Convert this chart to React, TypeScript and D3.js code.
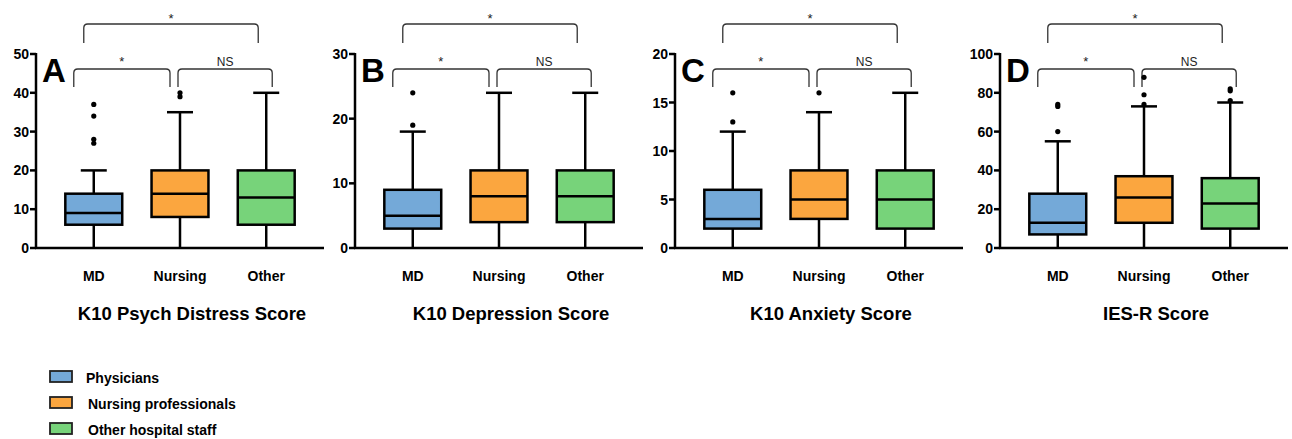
import React from 'react';
import * as d3 from 'd3';

// groups on the x axis
const categories = ['MD', 'Nursing', 'Other'];
const groupColors = ['#74a9d8', '#fba63f', '#77d37a'];
const legendLabels = ['Physicians', 'Nursing professionals', 'Other hospital staff'];

const panelLetters = ['A', 'B', 'C', 'D'];
const panelTitles = ['K10 Psych Distress Score', 'K10 Depression Score', 'K10 Anxiety Score', 'IES-R Score'];
const yMax = [50, 30, 20, 100];
const yTicks = [
  [0, 10, 20, 30, 40, 50],
  [0, 10, 20, 30],
  [0, 5, 10, 15, 20],
  [0, 20, 40, 60, 80, 100],
];

// significance labels: MD vs Other, MD vs Nursing, Nursing vs Other
const sigLabels = ['*', '*', 'NS'];

// box stats per group: [min, q1, median, q3, max]
const k10Distress = [[0, 6, 9, 14, 20], [0, 8, 14, 20, 35], [0, 6, 13, 20, 40]];
const k10DistressOut = [[27, 28, 34, 37], [39, 40], []];
const k10Depression = [[0, 3, 5, 9, 18], [0, 4, 8, 12, 24], [0, 4, 8, 12, 24]];
const k10DepressionOut = [[19, 24], [], []];
const k10Anxiety = [[0, 2, 3, 6, 12], [0, 3, 5, 8, 14], [0, 2, 5, 8, 16]];
const k10AnxietyOut = [[13, 16], [16], []];
const iesR = [[0, 7, 13, 28, 55], [0, 13, 26, 37, 73], [0, 10, 23, 36, 75]];
const iesROut = [[60, 73, 74], [74, 79, 88], [76, 81, 82]];

const panelStats = [k10Distress, k10Depression, k10Anxiety, iesR];
const panelOutliers = [k10DistressOut, k10DepressionOut, k10AnxietyOut, iesROut];

const panelX = [0, 319, 639, 962];
const FONT = '"Liberation Sans", Arial, sans-serif';

function bracket(x1: number, x2: number, y: number, yb: number, r = 4) {
  return `M${x1},${yb}L${x1},${y + r}Q${x1},${y} ${x1 + r},${y}L${x2 - r},${y}Q${x2},${y} ${x2},${y + r}L${x2},${yb}`;
}

function Panel({ i }: { i: number }) {
  const axisX = i === 3 ? 38 : 36;
  const w = 288;
  const top = 54;
  const bottom = 248;
  const x = d3.scaleBand().domain(categories).range([0, w]).padding(0.34);
  const y = d3.scaleLinear().domain([0, yMax[i]]).range([bottom, top]);
  const bw = x.bandwidth();
  const cx = (c: string) => (x(c) as number) + bw / 2;
  const capW = 26;

  const b0 = [cx('MD') - 10, cx('Other') - 8];
  const b1 = [cx('MD') - 20, cx('Nursing') - 10];
  const b2 = [cx('Nursing') - 2, cx('Other') + 6];

  return (
    <g transform={`translate(${panelX[i] + axisX},0)`}>
      {/* brackets */}
      <g fill="none" stroke="#333" strokeWidth={1.3}>
        <path d={bracket(b0[0], b0[1], 24, 43)} />
        <path d={bracket(b1[0], b1[1], 69, 87)} />
        <path d={bracket(b2[0], b2[1], 69, 87)} />
      </g>
      <g fontFamily={FONT} fontSize={13} textAnchor="middle" fill="#222">
        <text x={(b0[0] + b0[1]) / 2} y={23}>{sigLabels[0]}</text>
        <text x={(b1[0] + b1[1]) / 2} y={66}>{sigLabels[1]}</text>
        <text x={(b2[0] + b2[1]) / 2} y={66} fontSize={12}>{sigLabels[2]}</text>
      </g>

      {/* boxes */}
      {categories.map((c, k) => {
        const [mn, q1, md, q3, mx] = panelStats[i][k];
        const xc = cx(c);
        return (
          <g key={c} stroke="#000" strokeWidth={2.5}>
            <line x1={xc} x2={xc} y1={y(mn)} y2={y(q1)} />
            <line x1={xc} x2={xc} y1={y(q3)} y2={y(mx)} />
            <line x1={xc - capW / 2} x2={xc + capW / 2} y1={y(mx)} y2={y(mx)} />
            <rect x={x(c)} y={y(q3)} width={bw} height={y(q1) - y(q3)} fill={groupColors[k]} />
            <line x1={x(c)} x2={(x(c) as number) + bw} y1={y(md)} y2={y(md)} />
            {panelOutliers[i][k].map((o, j) => (
              <circle key={j} cx={xc} cy={y(o)} r={2.6} fill="#000" stroke="none" />
            ))}
          </g>
        );
      })}

      {/* axes */}
      <g stroke="#000" strokeWidth={2.5}>
        <line x1={0} x2={0} y1={y(yMax[i]) - 1} y2={bottom + 1} />
        <line x1={-1} x2={w} y1={bottom} y2={bottom} />
        {yTicks[i].map(t => (
          <line key={t} x1={-6} x2={0} y1={y(t)} y2={y(t)} />
        ))}
      </g>
      <g fontFamily={FONT} fontWeight="bold" fontSize={14} textAnchor="end">
        {yTicks[i].map(t => (
          <text key={t} x={-7} y={y(t) + 5}>{t}</text>
        ))}
      </g>
      <text x={6} y={82} fontFamily={FONT} fontWeight="bold" fontSize={33}>{panelLetters[i]}</text>

      <g fontFamily={FONT} fontWeight="bold" fontSize={14} textAnchor="middle">
        {categories.map(c => (
          <text key={c} x={cx(c)} y={281}>{c}</text>
        ))}
      </g>
      <text x={w / 2 + 12} y={320} fontFamily={FONT} fontWeight="bold" fontSize={18.5} textAnchor="middle">
        {panelTitles[i]}
      </text>
    </g>
  );
}

export default function App() {
  return (
    <svg width={1292} height={439} style={{ position: 'absolute', left: 0, top: 0, background: '#fff' }}>
      <rect width={1292} height={439} fill="#fff" />
      {panelLetters.map((_, i) => <Panel key={i} i={i} />)}
      <g fontFamily={FONT} fontWeight="bold" fontSize={14}>
        {legendLabels.map((l, k) => (
          <g key={l} transform={`translate(50,${371 + k * 26})`}>
            <rect x={0} y={0} width={22} height={11} fill={groupColors[k]} stroke="#222" strokeWidth={1.8} />
            <text x={k === 0 ? 36 : 38} y={12}>{l}</text>
          </g>
        ))}
      </g>
    </svg>
  );
}
